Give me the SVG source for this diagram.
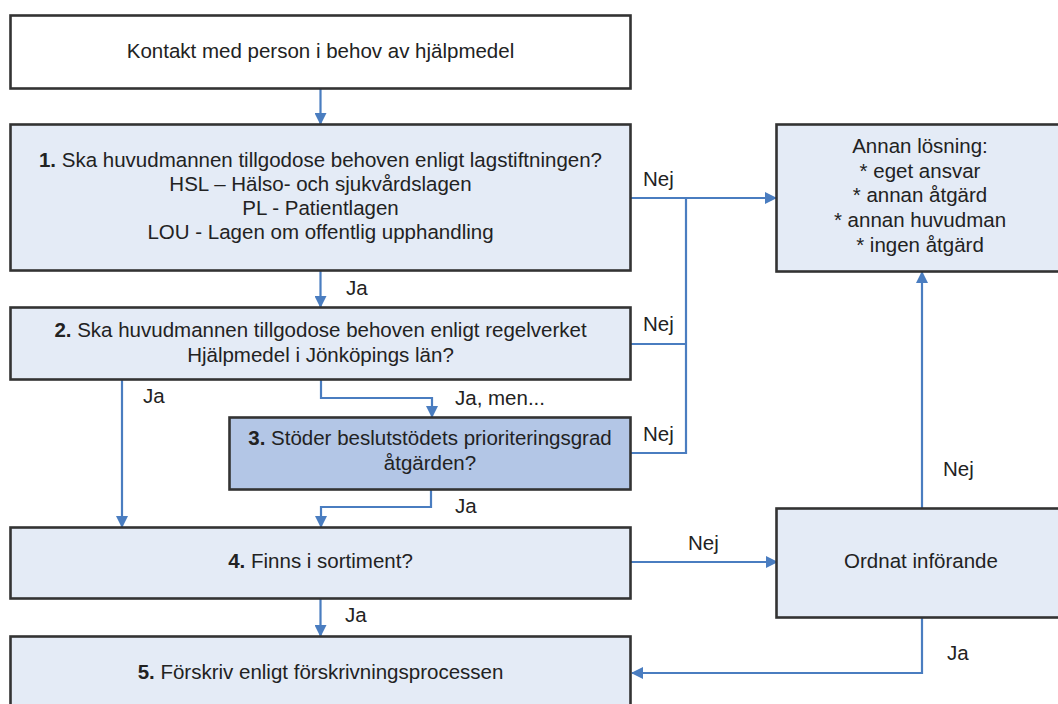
<svg xmlns="http://www.w3.org/2000/svg" width="1058" height="704" viewBox="0 0 1058 704">
<style>
.box{fill:#e4ebf6;stroke:#333333;stroke-width:2.6}
.white{fill:#ffffff}
.dark{fill:#b3c6e6}
text{font-family:"Liberation Sans",Arial,sans-serif;font-size:20.5px;fill:#222}
.c{text-anchor:middle}
.con{fill:none;stroke:#4a7dc0;stroke-width:2.2}
.arr{marker-end:url(#ah)}
</style>
<defs>
<marker id="ah" markerUnits="userSpaceOnUse" markerWidth="12" markerHeight="12" refX="11" refY="6" orient="auto">
<path d="M0,0 L12,6 L0,12 z" fill="#4a7dc0"/>
</marker>
</defs>
<rect width="1058" height="704" fill="#ffffff"/>
<g id="connectors">
<path class="con arr" d="M320.5,88 V124"/>
<path class="con arr" d="M320.5,271 V307"/>
<path class="con arr" d="M631,198 H776"/>
<path class="con" d="M631,344 H686"/>
<path class="con" d="M631,453 H686 V198"/>
<path class="con arr" d="M122,380 V527"/>
<path class="con arr" d="M321,380 V398 H432 V417"/>
<path class="con arr" d="M431,490 V507 H321 V527"/>
<path class="con arr" d="M631,562 H777"/>
<path class="con arr" d="M320.5,599 V636"/>
<path class="con arr" d="M922,508 V272"/>
<path class="con arr" d="M922,617 V673 H632"/>
<text x="346" y="295">Ja</text>
<text x="643" y="186">Nej</text>
<text x="643" y="331">Nej</text>
<text x="643" y="441">Nej</text>
<text x="143" y="403">Ja</text>
<text x="455" y="405">Ja, men...</text>
<text x="455" y="513">Ja</text>
<text x="688" y="550">Nej</text>
<text x="345" y="622">Ja</text>
<text x="943" y="476">Nej</text>
<text x="947" y="660">Ja</text>
</g>
<g id="start">
<rect class="box white" x="10.5" y="15.5" width="620" height="73"/>
<text class="c" x="320.5" y="58">Kontakt med person i behov av hjälpmedel</text>
</g>
<g id="q1">
<rect class="box" x="10.5" y="124.5" width="620" height="146"/>
<text class="c" x="320.5" y="167"><tspan font-weight="bold">1.</tspan> Ska huvudmannen tillgodose behoven enligt lagstiftningen?</text>
<text class="c" x="320.5" y="191">HSL – Hälso- och sjukvårdslagen</text>
<text class="c" x="320.5" y="215">PL - Patientlagen</text>
<text class="c" x="320.5" y="239">LOU - Lagen om offentlig upphandling</text>
</g>
<g id="q2">
<rect class="box" x="10.5" y="307.5" width="620" height="72"/>
<text class="c" x="320.5" y="337"><tspan font-weight="bold">2.</tspan> Ska huvudmannen tillgodose behoven enligt regelverket</text>
<text class="c" x="320.5" y="362">Hjälpmedel i Jönköpings län?</text>
</g>
<g id="q3">
<rect class="box dark" x="229.5" y="417.5" width="401" height="72"/>
<text class="c" x="430" y="445"><tspan font-weight="bold">3.</tspan> Stöder beslutstödets prioriteringsgrad</text>
<text class="c" x="430" y="470">åtgärden?</text>
</g>
<g id="q4">
<rect class="box" x="10.5" y="527.5" width="620" height="71"/>
<text class="c" x="320.5" y="568"><tspan font-weight="bold">4.</tspan> Finns i sortiment?</text>
</g>
<g id="q5">
<rect class="box" x="10.5" y="636.5" width="620" height="90"/>
<text class="c" x="320.5" y="679"><tspan font-weight="bold">5.</tspan> Förskriv enligt förskrivningsprocessen</text>
</g>
<g id="annan">
<rect class="box" x="776.5" y="124.5" width="300" height="147"/>
<text class="c" x="920" y="153">Annan lösning:</text>
<text class="c" x="920" y="178">* eget ansvar</text>
<text class="c" x="920" y="202">* annan åtgärd</text>
<text class="c" x="920" y="227">* annan huvudman</text>
<text class="c" x="920" y="252">* ingen åtgärd</text>
</g>
<g id="ordnat">
<rect class="box" x="776.5" y="508.5" width="300" height="109"/>
<text class="c" x="921" y="568">Ordnat införande</text>
</g>
</svg>
